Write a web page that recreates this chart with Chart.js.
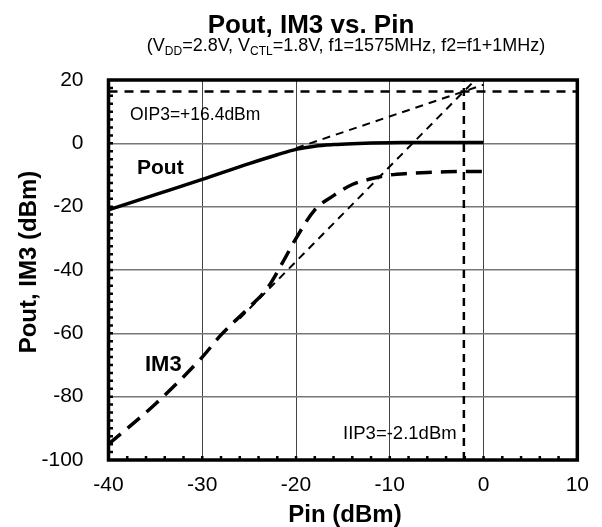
<!DOCTYPE html>
<html>
<head>
<meta charset="utf-8">
<title>Pout, IM3 vs. Pin</title>
<script src="https://cdn.jsdelivr.net/npm/chart.js@4.4.1/dist/chart.umd.min.js"></script>
<style>
  html, body { margin: 0; padding: 0; background: #fff; }
  #wrap { width: 602px; height: 527px; }
</style>
</head>
<body>
<div id="wrap"><canvas id="mainChart" width="602" height="527"></canvas></div>
<script>
// Measured output power and third-order intermod vs input power
const pinPout = [-40, -35, -30, -25, -22, -20, -18, -16, -14, -12, -10, -8, -6, -4, -2, 0];
const pout    = [-21, -16.2, -11.4, -6.4, -3.6, -1.9, -0.9, -0.4, -0.1, 0.1, 0.2, 0.25, 0.3, 0.3, 0.3, 0.3];

const pinIm3 = [-40, -35, -30, -28, -25, -23, -21.5, -20, -18, -16, -14, -12, -10, -8, -6, -4, -2, 0];
const im3    = [-95, -82.3, -67.5, -60.5, -51.8, -45.5, -38, -30, -21, -16.5, -13, -11.2, -10, -9.5, -9.2, -9, -8.9, -8.9];

// Intercept point
const iip3 = -2.1;
const oip3 = 16.4;

// Extrapolated slope-1 and slope-3 lines (end points)
const poutExtPin = [-20, 0];
const poutExt    = [-1.5, 18.5];
const im3ExtPin  = [-26, -1.0];
const im3Ext     = [-55.3, 19.7];

// Axis ranges / ticks
const xRange = [-40, 10];
const yRange = [-100, 20];
const xStep = 10, yStep = 20;
const xMinorStep = 2, yMinorStep = 2.5;

const FONT = '"Liberation Sans", Arial, Helvetica, sans-serif';

const toPoints = (xs, ys) => xs.map((x, i) => ({ x: x, y: ys[i] }));

// Title, subtitle, axis titles, labels, frame and inward minor ticks
const decorations = {
    id: 'decorations',
    afterDatasetsDraw(chart) {
        const { ctx, chartArea: a, scales } = chart;
        const xs = scales.x, ys = scales.y;
        ctx.save();
        ctx.fillStyle = '#000';
        ctx.strokeStyle = '#000';

        // inward ticks on bottom and left
        ctx.lineWidth = 2.5;
        ctx.beginPath();
        const nx = Math.round((xRange[1] - xRange[0]) / xMinorStep);
        for (let i = 1; i < nx; i++) {
            const px = xs.getPixelForValue(xRange[0] + i * xMinorStep);
            ctx.moveTo(px, a.bottom);
            ctx.lineTo(px, a.bottom - 4);
        }
        const ny = Math.round((yRange[1] - yRange[0]) / yMinorStep);
        for (let i = 1; i < ny; i++) {
            const py = ys.getPixelForValue(yRange[0] + i * yMinorStep);
            ctx.moveTo(a.left, py);
            ctx.lineTo(a.left + 4.5, py);
        }
        ctx.stroke();

        // plot frame
        ctx.lineWidth = 3.5;
        ctx.strokeRect(a.left, a.top, a.right - a.left, a.bottom - a.top);

        // main title
        ctx.textAlign = 'center';
        ctx.textBaseline = 'alphabetic';
        ctx.font = 'bold 26px ' + FONT;
        ctx.fillText('Pout, IM3 vs. Pin', 311, 33);

        // subtitle with subscripts
        const parts = [
            ['(V', 0], ['DD', 1], ['=2.8V, V', 0], ['CTL', 1],
            ['=1.8V, f1=1575MHz, f2=f1+1MHz)', 0]
        ];
        const big = '18px ' + FONT, small = '12px ' + FONT;
        let total = 0;
        parts.forEach(p => { ctx.font = p[1] ? small : big; total += ctx.measureText(p[0]).width; });
        let sx = 346 - total / 2;
        ctx.textAlign = 'left';
        parts.forEach(p => {
            ctx.font = p[1] ? small : big;
            ctx.fillText(p[0], sx, p[1] ? 55 : 51);
            sx += ctx.measureText(p[0]).width;
        });

        // axis titles
        ctx.textAlign = 'center';
        ctx.font = 'bold 24px ' + FONT;
        ctx.fillText('Pin (dBm)', 345, 522);
        ctx.save();
        ctx.translate(36, 262);
        ctx.rotate(-Math.PI / 2);
        ctx.fillText('Pout, IM3 (dBm)', 0, 0);
        ctx.restore();

        // in-plot labels
        ctx.textAlign = 'left';
        ctx.textBaseline = 'middle';
        ctx.font = '17.5px ' + FONT;
        ctx.fillText('OIP3=+' + oip3 + 'dBm', 130, 115);
        ctx.font = '18.5px ' + FONT;
        ctx.fillText('IIP3=' + iip3 + 'dBm', 343, 434);
        ctx.font = 'bold 21px ' + FONT;
        ctx.fillText('Pout', 137, 168);
        ctx.font = 'bold 22px ' + FONT;
        ctx.fillText('IM3', 145, 365);
        ctx.restore();
    }
};

const ctx = document.getElementById('mainChart').getContext('2d');
new Chart(ctx, {
    type: 'scatter',
    data: {
        datasets: [
            {
                label: 'Pout',
                data: toPoints(pinPout, pout),
                showLine: true,
                borderColor: '#000',
                borderWidth: 3.5,
                pointRadius: 0,
                cubicInterpolationMode: 'monotone'
            },
            {
                label: 'IM3',
                data: toPoints(pinIm3, im3),
                showLine: true,
                borderColor: '#000',
                borderWidth: 3.5,
                borderDash: [16, 9],
                pointRadius: 0,
                cubicInterpolationMode: 'monotone'
            },
            {
                label: 'Pout extrapolated',
                data: toPoints(poutExtPin, poutExt),
                showLine: true,
                borderColor: '#000',
                borderWidth: 2,
                borderDash: [8, 6],
                pointRadius: 0
            },
            {
                label: 'IM3 extrapolated',
                data: toPoints(im3ExtPin, im3Ext),
                showLine: true,
                borderColor: '#000',
                borderWidth: 2,
                borderDash: [8, 6],
                pointRadius: 0
            },
            {
                label: 'OIP3',
                data: toPoints(xRange, [oip3, oip3]),
                showLine: true,
                borderColor: '#000',
                borderWidth: 2.5,
                borderDash: [9, 7],
                pointRadius: 0
            },
            {
                label: 'IIP3',
                data: toPoints([iip3, iip3], yRange),
                showLine: true,
                borderColor: '#000',
                borderWidth: 2.5,
                borderDash: [8, 6],
                pointRadius: 0
            }
        ]
    },
    options: {
        responsive: false,
        animation: false,
        layout: { padding: { top: 80, right: 23, left: 0, bottom: 0 } },
        plugins: {
            legend: { display: false },
            tooltip: { enabled: false },
            title: { display: false }
        },
        scales: {
            x: {
                type: 'linear',
                min: xRange[0],
                max: xRange[1],
                border: { display: false },
                grid: { color: '#444', lineWidth: 1, drawTicks: false },
                ticks: {
                    stepSize: xStep,
                    color: '#000',
                    padding: 13,
                    font: { family: FONT, size: 21 }
                },
                afterFit: s => { s.height = 67; }
            },
            y: {
                type: 'linear',
                min: yRange[0],
                max: yRange[1],
                border: { display: false },
                grid: { color: '#777', lineWidth: 1.5, drawTicks: false },
                ticks: {
                    stepSize: yStep,
                    color: '#000',
                    padding: 25,
                    font: { family: FONT, size: 21 }
                },
                afterFit: s => { s.width = 108.5; }
            }
        }
    },
    plugins: [decorations]
});
</script>
</body>
</html>
